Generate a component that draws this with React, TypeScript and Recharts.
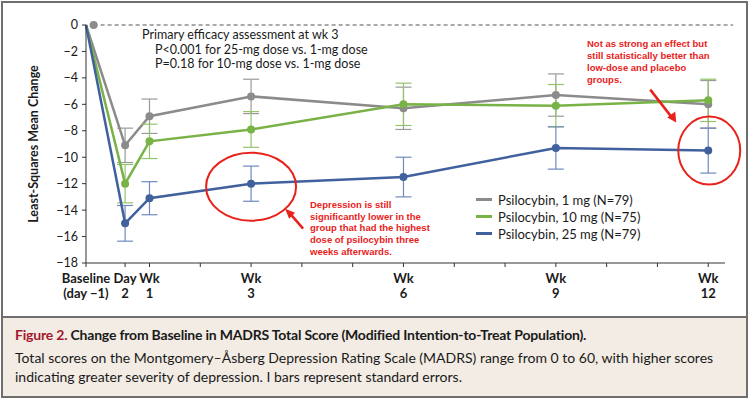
import {
  LineChart,
  Line,
  XAxis,
  YAxis,
  ErrorBar,
  ReferenceLine,
  ReferenceDot,
  Legend,
} from 'recharts';

// visit labels (two lines, split on '|') and where they sit on the week axis
const visitLabels = ['Baseline|(day \u22121)', 'Day|2', 'Wk|1', 'Wk|3', 'Wk|6', 'Wk|9', 'Wk|12'];
const visitWeek = [-0.25, 0.52, 1, 3, 6, 9, 12];
const weekTicks = [-0.25, 0.52, 1, 2, 3, 4, 5, 6, 7, 8, 9, 10, 11, 12];
const yTicks = [0, -2, -4, -6, -8, -10, -12, -14, -16, -18];

// least-squares mean change from baseline
const dose1mg = [0, -9.1, -6.9, -5.4, -6.3, -5.3, -6.0];
const dose10mg = [0, -12.0, -8.8, -7.9, -6.0, -6.1, -5.7];
const dose25mg = [0, -15.0, -13.1, -12.0, -11.5, -9.3, -9.5];
// standard errors (I bars)
const se1mg = [null, 1.3, 1.3, 1.3, 1.6, 1.6, 1.8];
const se10mg = [null, 1.45, 1.3, 1.35, 1.6, 1.6, 1.6];
const se25mg = [null, 1.35, 1.25, 1.33, 1.5, 1.6, 1.7];

const seriesNames = ['Psilocybin, 1 mg (N=79)', 'Psilocybin, 10 mg (N=75)', 'Psilocybin, 25 mg (N=79)'];

const GRAY = '#8b8b8b';
const GREEN = '#79b246';
const BLUE = '#40609e';
const RED = '#e8221b';
const FONT = 'Lato, "Noto Sans", sans-serif';

const data = visitWeek.map((w, i) => ({
  week: w,
  label: visitLabels[i],
  d1: dose1mg[i],
  d10: dose10mg[i],
  d25: dose25mg[i],
  e1: se1mg[i],
  e10: se10mg[i],
  e25: se25mg[i],
}));

function makeDot(color: string) {
  return (p: any) =>
    p.index === 0 ? (
      <g key={p.key} />
    ) : (
      <circle key={p.key} cx={p.cx} cy={p.cy} r={4} fill={color} stroke="none" />
    );
}

function WeekTick(props: any) {
  const { x, y, payload } = props;
  const idx = visitWeek.indexOf(payload.value);
  if (idx < 0) return <g />;
  const [a, b] = visitLabels[idx].split('|');
  return (
    <g transform={`translate(${x},${y})`}>
      <text textAnchor="middle" fontFamily={FONT} fontWeight={700} fontSize={13} fill="#1a1a1a">
        <tspan x={0} dy={14}>{a}</tspan>
        <tspan x={0} dy={15}>{b}</tspan>
      </text>
    </g>
  );
}

function renderLegend() {
  const colors = [GRAY, GREEN, BLUE];
  return (
    <div style={{ fontFamily: FONT, fontSize: 13, color: '#1a1a1a' }}>
      {seriesNames.map((n, i) => (
        <div key={n} style={{ display: 'flex', alignItems: 'center', height: 17 }}>
          <span style={{ width: 16, height: 2.5, background: colors[i], marginRight: 6 }} />
          {n}
        </div>
      ))}
    </div>
  );
}

export default function App() {
  return (
    <div style={{ position: 'absolute', left: 0, top: 0, width: 750, height: 399, background: '#fff' }}>
      <div
        style={{
          position: 'absolute',
          left: 1,
          top: 1,
          width: 747,
          height: 397,
          border: '2px solid #6e6e6e',
          boxSizing: 'border-box',
        }}
      />
      <div style={{ position: 'absolute', left: 0, top: 0 }}>
        <LineChart width={750} height={316} data={data} margin={{ top: 25, right: 25, bottom: 13, left: 0 }}>
          <XAxis
            dataKey="week"
            type="number"
            domain={[-0.25, 12.33]}
            ticks={weekTicks}
            interval={0}
            height={40}
            tick={<WeekTick />}
            tickSize={4}
            stroke="#333"
            tickLine={{ stroke: '#333' }}
          />
          <YAxis
            type="number"
            domain={[-18, 0]}
            ticks={yTicks}
            interval={0}
            width={86}
            tickSize={4}
            tickMargin={4}
            stroke="#333"
            tickFormatter={(v: number) => (v < 0 ? '\u2212' + Math.abs(v) : String(v))}
            tick={{ fontFamily: FONT, fontSize: 12.5, fill: '#1a1a1a' }}
          />
          <ReferenceLine
            segment={[
              { x: -0.1, y: 0 },
              { x: 12.49, y: 0 },
            ]}
            stroke="#555"
            strokeDasharray="4 3"
            strokeWidth={1.2}
            ifOverflow="visible"
          />
          <ReferenceDot x={-0.1} y={0} r={4} fill={GRAY} stroke="none" ifOverflow="visible" />
          <Legend
            layout="vertical"
            align="center"
            verticalAlign="middle"
            content={renderLegend}
            wrapperStyle={{ position: 'absolute', left: 476, top: 191, width: 'auto' }}
          />
          <Line dataKey="d1" stroke={GRAY} strokeWidth={2.5} dot={makeDot(GRAY)} isAnimationActive={false}>
            <ErrorBar dataKey="e1" width={8} stroke="#9a9a9a" strokeWidth={1.2} direction="y" />
          </Line>
          <Line dataKey="d10" stroke={GREEN} strokeWidth={2.5} dot={makeDot(GREEN)} isAnimationActive={false}>
            <ErrorBar dataKey="e10" width={8} stroke="#93c46a" strokeWidth={1.2} direction="y" />
          </Line>
          <Line dataKey="d25" stroke={BLUE} strokeWidth={2.5} dot={makeDot(BLUE)} isAnimationActive={false}>
            <ErrorBar dataKey="e25" width={8} stroke="#6f89bd" strokeWidth={1.2} direction="y" />
          </Line>
          <ReferenceDot
            x={visitWeek[3]}
            y={dose25mg[3]}
            ifOverflow="visible"
            shape={(p: any) => (
              <g>
                <ellipse cx={p.cx} cy={p.cy + 3} rx={45} ry={34} fill="none" stroke={RED} strokeWidth={2} />
                <line x1={p.cx + 52} y1={p.cy + 45} x2={p.cx + 39} y2={p.cy + 30} stroke={RED} strokeWidth={2.5} />
                <polygon
                  points={`${p.cx + 34},${p.cy + 25} ${p.cx + 44},${p.cy + 29} ${p.cx + 38},${p.cy + 35}`}
                  fill={RED}
                />
              </g>
            )}
          />
          <ReferenceDot
            x={visitWeek[6]}
            y={dose25mg[6]}
            ifOverflow="visible"
            shape={(p: any) => (
              <g>
                <ellipse cx={p.cx + 1} cy={p.cy} rx={31} ry={34} fill="none" stroke={RED} strokeWidth={2} />
                <line x1={p.cx - 58} y1={p.cy - 61} x2={p.cx - 37} y2={p.cy - 34} stroke={RED} strokeWidth={2.5} />
                <polygon
                  points={`${p.cx - 32},${p.cy - 28} ${p.cx - 33},${p.cy - 39} ${p.cx - 41},${p.cy - 33}`}
                  fill={RED}
                />
              </g>
            )}
          />
        </LineChart>
      </div>

      {/* y axis title */}
      <div
        style={{
          position: 'absolute',
          left: 33,
          top: 144,
          transform: 'translate(-50%, -50%) rotate(-90deg)',
          whiteSpace: 'nowrap',
          fontFamily: FONT,
          fontWeight: 700,
          fontSize: 12.5,
          color: '#1a1a1a',
        }}
      >
        Least-Squares Mean Change
      </div>

      {/* efficacy note */}
      <div
        style={{
          position: 'absolute',
          left: 142,
          top: 28,
          fontFamily: FONT,
          fontSize: 12.5,
          lineHeight: '14.7px',
          color: '#1a1a1a',
          whiteSpace: 'nowrap',
        }}
      >
        <div>Primary efficacy assessment at wk 3</div>
        <div style={{ paddingLeft: 13 }}>P&lt;0.001 for 25-mg dose vs. 1-mg dose</div>
        <div style={{ paddingLeft: 13 }}>P=0.18 for 10-mg dose vs. 1-mg dose</div>
      </div>

      {/* red annotations */}
      <div
        style={{
          position: 'absolute',
          left: 310,
          top: 199,
          fontFamily: '"Liberation Sans", Arial, sans-serif',
          fontWeight: 700,
          fontSize: 9.5,
          lineHeight: '11.7px',
          color: RED,
          whiteSpace: 'nowrap',
        }}
      >
        <div>Depression is still</div>
        <div>significantly lower in the</div>
        <div>group that had the highest</div>
        <div>dose of psilocybin three</div>
        <div>weeks afterwards.</div>
      </div>
      <div
        style={{
          position: 'absolute',
          left: 587,
          top: 38,
          fontFamily: '"Liberation Sans", Arial, sans-serif',
          fontWeight: 700,
          fontSize: 9.5,
          lineHeight: '11.9px',
          color: RED,
          whiteSpace: 'nowrap',
        }}
      >
        <div>Not as strong an effect but</div>
        <div>still statistically better than</div>
        <div>low-dose and placebo</div>
        <div>groups.</div>
      </div>

      {/* caption */}
      <div
        style={{
          position: 'absolute',
          left: 1,
          top: 316,
          width: 747,
          height: 82,
          background: '#f2ece4',
          borderTop: '2px solid #6e6e6e',
          borderLeft: '2px solid #6e6e6e',
          borderRight: '2px solid #6e6e6e',
          borderBottom: '2px solid #6e6e6e',
          boxSizing: 'border-box',
          padding: '7px 0 0 12px',
          fontFamily: FONT,
          color: '#1a1a1a',
        }}
      >
        <div style={{ fontSize: 14, fontWeight: 700, lineHeight: '20px', letterSpacing: -0.2 }}>
          <span style={{ color: '#a3192d' }}>Figure 2.</span> Change from Baseline in MADRS Total Score
          (Modified Intention-to-Treat Population).
        </div>
        <div style={{ fontSize: 14, lineHeight: '19px', marginTop: 3 }}>
          Total scores on the Montgomery&#8211;&#197;sberg Depression Rating Scale (MADRS) range from 0 to 60, with
          higher scores
          <br />
          indicating greater severity of depression. I bars represent standard errors.
        </div>
      </div>
    </div>
  );
}
